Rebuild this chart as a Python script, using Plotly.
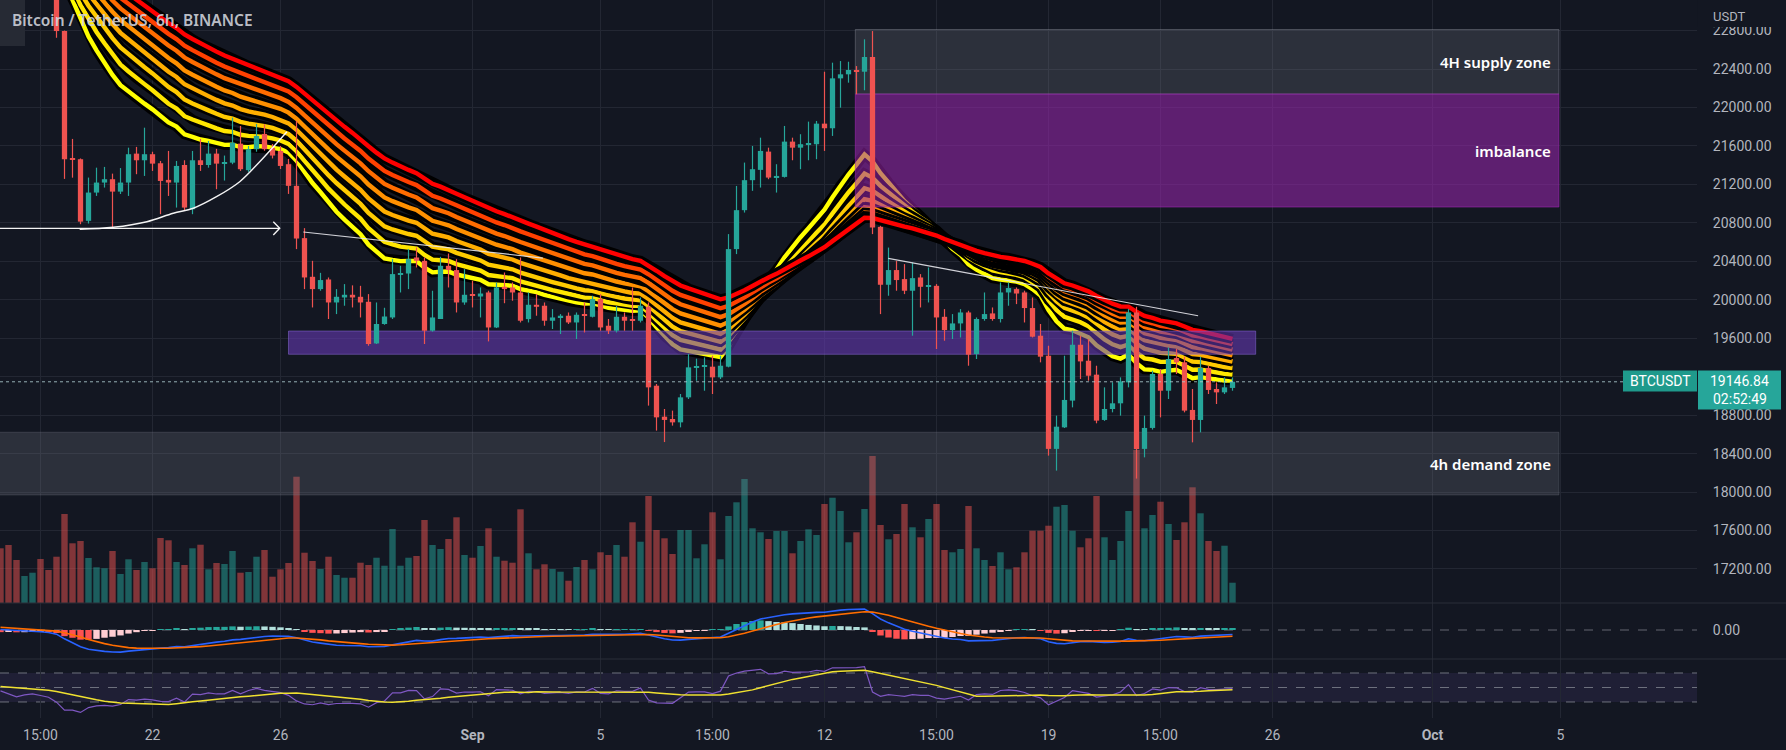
import plotly.graph_objects as go

# ---------------- data: BTCUSDT 6h candles ----------------
opens = [23950, 23800, 23600, 23350, 23450, 23500, 23380, 23250, 22795, 21470,
         21462, 20821, 21115, 21219, 21254, 21125, 21219, 21520, 21451, 21514,
         21420, 21247, 21219, 21402, 20942, 21451, 21402, 21520, 21416, 21426,
         21624, 21348, 21566, 21725, 21580, 21548, 21410, 21185, 20641, 20239,
         20111, 20211, 19972, 20024, 20052, 20031, 19979, 19546, 19748, 19816,
         20267, 20273, 20440, 20405, 19678, 19800, 20353, 20309, 19972, 20052,
         20034, 20076, 19712, 20135, 20128, 20076, 19799, 19948, 19938, 19782,
         19816, 19834, 19764, 19851, 19823, 20007, 19730, 19678, 19823, 19792,
         19782, 19927, 19106, 18784, 18760, 18725, 18985, 19297, 19304, 19304,
         19193, 19304, 20527, 20932, 21244, 21351, 21541, 21271, 21278, 21645,
         21582, 21610, 21618, 21832, 21784, 22303, 22345, 22390, 22372, 22525,
         20758, 20156, 20309, 20215, 20094, 20232, 20135, 20145, 19823, 19685,
         19754, 19868, 19436, 19800, 19858, 19800, 20076, 20111, 20076, 19914,
         19626, 19418, 18449, 18673, 18951, 19532, 19366, 19221, 18750, 18864,
         18923, 19141, 19868, 18449, 18667, 19228, 19054, 19394, 19349, 18854,
         18750, 19290, 19072, 19037, 19083]
highs = [24150, 23900, 23700, 23550, 23600, 23550, 23420, 23300, 22800, 21673,
         21470, 21271, 21374, 21382, 21312, 21370, 21582, 21590, 21790, 21540,
         21444, 21548, 21444, 21451, 21548, 21673, 21652, 21569, 21500, 21894,
         21808, 21600, 21829, 21825, 21620, 21600, 21465, 21860, 20745, 20405,
         20280, 20232, 20111, 20163, 20150, 20145, 20059, 19972, 19917, 20423,
         20353, 20527, 20543, 20440, 20094, 20447, 20481, 20423, 20319, 20197,
         20128, 20094, 20180, 20284, 20180, 20440, 20076, 20059, 19972, 19903,
         19851, 19868, 19868, 19972, 20042, 20059, 19800, 19938, 19868, 20128,
         20024, 19972, 19124, 18864, 18847, 19020, 19436, 19387, 19400, 19418,
         19418, 20683, 21184, 21427, 21600, 21686, 21582, 21410, 21808, 21686,
         21722, 21853, 21860, 22372, 22466, 22483, 22476, 22431, 22709, 22795,
         20769, 20543, 20405, 20371, 20388, 20267, 20336, 20163, 19903, 19851,
         19903, 19886, 19816, 20076, 19920, 20180, 20180, 20128, 20094, 20024,
         19748, 19522, 18795, 19418, 19678, 19626, 19592, 19314, 19089, 19141,
         19193, 19903, 19927, 18795, 19262, 19280, 19504, 19488, 19408, 19072,
         19408, 19314, 19141, 19193, 19193]
lows = [23700, 23500, 23250, 23300, 23400, 23300, 23200, 22725, 21257, 21270,
        20786, 20793, 21080, 21167, 20751, 21100, 21080, 21306, 21288, 21340,
        20890, 21080, 20959, 20925, 20890, 21340, 21374, 21150, 21240, 21410,
        21340, 21330, 21540, 21550, 21470, 21360, 21101, 20527, 20111, 19920,
        20094, 19800, 19851, 19938, 19920, 19816, 19522, 19540, 19740, 19800,
        20076, 20111, 20336, 19540, 19668, 19800, 20128, 19868, 19948, 19920,
        19816, 19567, 19706, 19964, 19990, 19764, 19764, 19834, 19730, 19696,
        19644, 19748, 19592, 19660, 19816, 19678, 19644, 19660, 19678, 19678,
        19764, 18899, 18639, 18520, 18691, 18673, 18968, 19158, 19054, 19020,
        19176, 19297, 20475, 20907, 21133, 21167, 21254, 21115, 21271, 21451,
        21358, 21451, 21462, 21548, 21704, 21998, 22258, 22137, 22179, 20683,
        19851, 20042, 20094, 20059, 19626, 19920, 19972, 19488, 19574, 19592,
        19608, 19314, 19384, 19782, 19782, 19764, 19938, 19955, 19764, 19608,
        19349, 18379, 18223, 18666, 18881, 19176, 19158, 18715, 18740, 18829,
        18795, 19089, 18140, 18361, 18650, 18777, 18968, 19228, 18829, 18517,
        18621, 19020, 18916, 19020, 19054]
closes = [23800, 23600, 23350, 23450, 23500, 23380, 23250, 22795, 21462, 21462,
          20813, 21115, 21219, 21254, 21125, 21219, 21514, 21451, 21514, 21416,
          21236, 21219, 21392, 20959, 21451, 21402, 21520, 21416, 21426, 21634,
          21358, 21566, 21704, 21566, 21500, 21392, 21185, 20637, 20232, 20111,
          20205, 19972, 20031, 20052, 20024, 19972, 19540, 19748, 19826, 20267,
          20273, 20423, 20405, 19678, 19816, 20353, 20309, 19972, 20052, 20042,
          20065, 19712, 20128, 20111, 20076, 19782, 19948, 19927, 19782, 19816,
          19834, 19764, 19844, 19834, 20007, 19712, 19678, 19823, 19782, 19786,
          19938, 19089, 18777, 18750, 18725, 18985, 19297, 19304, 19310, 19193,
          19314, 20527, 20932, 21244, 21358, 21548, 21271, 21288, 21645, 21582,
          21618, 21624, 21832, 21784, 22303, 22345, 22390, 22372, 22525, 20751,
          20156, 20309, 20205, 20094, 20225, 20135, 20145, 19816, 19685, 19754,
          19868, 19429, 19800, 19851, 19800, 20076, 20122, 20065, 19914, 19616,
          19408, 18449, 18680, 18958, 19532, 19359, 19210, 18743, 18864, 18923,
          19151, 19868, 18449, 18667, 19228, 19054, 19384, 19349, 18847, 18750,
          19290, 19062, 19037, 19089, 19146.84]
volumes_k = [38.3, 40.6, 30.1, 18.9, 21.2, 30.8, 23.1, 32.4, 62.3, 41.8,
             43.4, 31.5, 25.0, 24.3, 36.4, 20.3, 30.6, 23.1, 28.7, 24.3,
             45.5, 43.9, 28.7, 26.6, 38.3, 40.8, 23.6, 28.0, 27.3, 36.4,
             21.2, 21.7, 32.4, 37.1, 18.4, 23.6, 28.0, 88.4, 35.2, 29.4,
             23.8, 32.4, 19.6, 17.7, 17.7, 28.2, 26.6, 31.7, 26.1, 51.8,
             26.1, 31.7, 32.9, 58.1, 40.6, 37.8, 44.8, 60.0, 33.6, 31.7,
             39.9, 52.3, 32.4, 29.6, 28.2, 65.6, 34.8, 23.6, 27.1, 23.8,
             21.9, 15.6, 25.2, 30.1, 23.6, 35.5, 33.6, 40.6, 32.4, 56.5,
             42.9, 74.9, 51.1, 45.3, 34.3, 51.1, 51.1, 31.3, 41.1, 63.5,
             30.6, 60.9, 70.5, 86.8, 52.3, 49.5, 44.8, 50.4, 50.4, 34.8,
             43.4, 51.6, 47.6, 69.3, 73.7, 64.4, 42.5, 49.5, 65.8, 102.9,
             54.6, 44.6, 48.3, 69.3, 53.0, 46.0, 58.8, 69.3, 37.1, 35.5,
             37.8, 67.9, 38.3, 30.1, 25.9, 35.5, 23.6, 25.0, 35.5, 50.6,
             50.6, 54.1, 67.4, 68.6, 50.6, 39.0, 45.3, 74.9, 46.0, 30.1,
             43.4, 64.4, 107.1, 52.3, 61.6, 70.9, 55.3, 44.1, 56.5, 81.0,
             62.8, 43.4, 36.4, 40.1, 14.2]

# time axis labels (bar index of each label)
x_tick_bars = [5, 19, 35, 59, 75, 89, 103, 117, 131, 145, 159, 179, 195]
x_tick_labels = ['15:00', '22', '26', '<b>Sep</b>', '5', '15:00', '12', '15:00', '19',
                 '15:00', '26', '<b>Oct</b>', '5']
price_ticks = [17200, 17600, 18000, 18400, 18800, 19200, 19600, 20000, 20400,
               20800, 21200, 21600, 22000, 22400, 22800]
# 19200 sits under the last-price label, so the scale hides its text
hidden_price_labels = [19200]

# zones drawn on the chart: [label, low, high, first bar, last bar]
zone_labels = ['4H supply zone', 'imbalance', '', '4h demand zone']
zone_low = [22140, 20965, 19433, 17970]
zone_high = [22811, 22140, 19675, 18622]
zone_start = [106.85, 106.85, 36.0, -2]
zone_end = [194.8, 194.8, 156.9, 194.8]

# hand-drawn lines (bar, price)
arrow_x = [-1, 34.9]
arrow_y = [20743, 20743]
arrow_head_x = [34.1, 34.9, 34.1]
arrow_head_y = [20812, 20743, 20674]
curve_x = [9.9, 14.1, 18.3, 21.6, 24.1, 27.0, 29.9, 32.4, 35.8]
curve_y = [20733, 20754, 20812, 20900, 20952, 21072, 21228, 21436, 21748]
trend1_x = [37.85, 67.8]
trend1_y = [20705, 20434]
trend2_x = [110.97, 149.7]
trend2_y = [20431, 19834]

# indicator settings (seeds = indicator state just before the first visible bar)
ema_lengths = [20, 25, 30, 35, 40, 45, 50, 55]
ema_seeds = [23700, 23760, 23820, 23880, 23940, 24000, 24060, 24120]
ribbon_colors = ['#ffff00', '#ffe600', '#ffcb00', '#ffae00', '#ff9000', '#ff6c00', '#ff4000', '#ff0000']
macd_seeds = (23700, 23690, 100)
rsi_seeds = (23950, 80.0, 85.0, 52.0)

# ---------------- indicators ----------------
def ema(values, length, seed):
    a = 2.0 / (length + 1)
    out, prev = [], seed
    for v in values:
        prev = prev + a * (v - prev)
        out.append(prev)
    return out

n = len(closes)
bars = list(range(n))

ribbons = [ema(closes, L, s) for L, s in zip(ema_lengths, ema_seeds)]

fast = ema(closes, 12, macd_seeds[0])
slow = ema(closes, 26, macd_seeds[1])
macd = [f - s for f, s in zip(fast, slow)]
signal = ema(macd, 9, macd_seeds[2])
hist = [m - s for m, s in zip(macd, signal)]
hist_colors = []
for i, h in enumerate(hist):
    prev = hist[i - 1] if i > 0 else h
    if h >= 0:
        hist_colors.append('#26a69a' if h > prev else '#b2dfdb')
    else:
        hist_colors.append('#ffcdd2' if h > prev else '#ff5252')

prev_c, g, l, ma_seed = rsi_seeds
rsi = []
for c in closes:
    ch = c - prev_c
    g = (g * 13 + max(ch, 0)) / 14
    l = (l * 13 + max(-ch, 0)) / 14
    rsi.append(100 - 100 / (1 + g / l))
    prev_c = c
rsi_hist = [ma_seed] * 13 + rsi
rsi_ma = [sum(rsi_hist[k:k + 14]) / 14 for k in range(n)]

# ---------------- geometry ----------------
W, H = 1786, 750
PLOT_R = 1697
PLOT_B = 718
MAIN_B = 603
MACD_B = 659
BG = '#131722'
GRID = '#232733'
TXT = '#b2b5be'
UP, DOWN = '#26a69a', '#ef5350'
BAR_PX = 8.0
x_lo = (0 - 0.5) / BAR_PX
x_hi = (PLOT_R - 0.5) / BAR_PX
price_lo, price_hi = 16846, 23118
vol_max = 603 * 0.7
macd_px = 31.0
rsi_lo, rsi_hi = 7.9, 89.3


def pyv(px):
    return (PLOT_B - px) / PLOT_B


def pxv(px):
    return px / PLOT_R


fig = go.Figure()

# EMA ribbon (base price axis)
for vals, col in zip(ribbons, ribbon_colors):
    fig.add_trace(go.Scatter(x=bars, y=vals, mode='lines', line=dict(color='#000000', width=10),
                             xaxis='x', yaxis='y', hoverinfo='skip'))
    fig.add_trace(go.Scatter(x=bars, y=vals, mode='lines', line=dict(color=col, width=4.4),
                             xaxis='x', yaxis='y', hoverinfo='skip'))

# volume
up_flags = [c >= o for o, c in zip(opens, closes)]
vol_colors = ['rgba(38,166,154,0.5)' if u else 'rgba(239,83,80,0.5)' for u in up_flags]
fig.add_trace(go.Bar(x=bars, y=volumes_k, marker=dict(color=vol_colors, line=dict(width=0)),
                     width=0.8, xaxis='x', yaxis='y2', hoverinfo='skip'))

# zones
zone_fill = ['rgba(120,123,134,0.25)', 'rgba(156,39,176,0.55)', 'rgba(103,58,183,0.58)', 'rgba(120,123,134,0.25)']
zone_line = ['rgba(160,163,175,0.35)', 'rgba(156,39,176,0.6)', 'rgba(140,110,220,0.5)', 'rgba(120,123,134,0.3)']
for lo, hi, x0, x1, fc, lc in zip(zone_low, zone_high, zone_start, zone_end, zone_fill, zone_line):
    fig.add_trace(go.Scatter(x=[x0, x1, x1, x0, x0], y=[lo, lo, hi, hi, lo], mode='lines',
                             fill='toself', fillcolor=fc, line=dict(color=lc, width=1),
                             xaxis='x', yaxis='y3', hoverinfo='skip'))

# candles
body_base = [min(o, c) for o, c in zip(opens, closes)]
body_len = [max(abs(c - o), 11) for o, c in zip(opens, closes)]
fig.add_trace(go.Bar(x=bars, y=body_len, base=body_base,
                     marker=dict(color=[UP if u else DOWN for u in up_flags], line=dict(width=0)),
                     width=0.66, xaxis='x', yaxis='y4', hoverinfo='skip'))
for want_up, col in ((True, UP), (False, DOWN)):
    wx, wy = [], []
    for i in bars:
        if up_flags[i] == want_up:
            wx += [i, i, None]
            wy += [lows[i], highs[i], None]
    fig.add_trace(go.Scatter(x=wx, y=wy, mode='lines', line=dict(color=col, width=1.2),
                             xaxis='x', yaxis='y4', hoverinfo='skip'))

# drawings
white = dict(color='rgba(255,255,255,0.95)', width=1.4)
fig.add_trace(go.Scatter(x=arrow_x, y=arrow_y, mode='lines', line=white, xaxis='x', yaxis='y4', hoverinfo='skip'))
fig.add_trace(go.Scatter(x=arrow_head_x, y=arrow_head_y, mode='lines', line=white, xaxis='x', yaxis='y4', hoverinfo='skip'))
fig.add_trace(go.Scatter(x=curve_x, y=curve_y, mode='lines', line=dict(color='rgba(255,255,255,0.95)', width=1.4, shape='spline'),
                         xaxis='x', yaxis='y4', hoverinfo='skip'))
fig.add_trace(go.Scatter(x=trend1_x, y=trend1_y, mode='lines', line=dict(color='rgba(230,230,235,0.9)', width=1.2),
                         xaxis='x', yaxis='y4', hoverinfo='skip'))
fig.add_trace(go.Scatter(x=trend2_x, y=trend2_y, mode='lines', line=dict(color='rgba(230,230,235,0.9)', width=1.2),
                         xaxis='x', yaxis='y4', hoverinfo='skip'))
# last price line
fig.add_trace(go.Scatter(x=[x_lo, x_hi], y=[closes[-1], closes[-1]], mode='lines',
                         line=dict(color='rgba(170,200,205,0.85)', width=1, dash='dot'),
                         xaxis='x', yaxis='y4', hoverinfo='skip'))

# MACD pane
fig.add_trace(go.Bar(x=bars, y=hist, marker=dict(color=hist_colors, line=dict(width=0)), width=0.8,
                     xaxis='x2', yaxis='y5', hoverinfo='skip'))
fig.add_trace(go.Scatter(x=bars, y=macd, mode='lines', line=dict(color='#2962ff', width=1.6),
                         xaxis='x2', yaxis='y5', hoverinfo='skip'))
fig.add_trace(go.Scatter(x=bars, y=signal, mode='lines', line=dict(color='#ff6d00', width=1.6),
                         xaxis='x2', yaxis='y5', hoverinfo='skip'))

# RSI pane
fig.add_trace(go.Scatter(x=bars, y=rsi, mode='lines', line=dict(color='#7e57c2', width=1.2),
                         xaxis='x3', yaxis='y6', hoverinfo='skip'))
fig.add_trace(go.Scatter(x=bars, y=rsi_ma, mode='lines', line=dict(color='#f0e130', width=1.5),
                         xaxis='x3', yaxis='y6', hoverinfo='skip'))

axis_font = dict(family='Roboto, sans-serif', size=14, color=TXT)
common_x = dict(range=[x_lo, x_hi], tickvals=x_tick_bars, ticktext=x_tick_labels, showgrid=True,
                gridcolor=GRID, gridwidth=1, zeroline=False, showline=False, fixedrange=True)
y_right = dict(side='right', ticks='outside', ticklen=12, tickcolor=BG, tickfont=axis_font,
               zeroline=False, showline=False, fixedrange=True)
price_text = ['' if v in hidden_price_labels else f'{v:.2f}' for v in price_ticks]

fig.update_layout(
    width=W, height=H, margin=dict(l=0, r=W - PLOT_R, t=0, b=H - PLOT_B),
    paper_bgcolor=BG, plot_bgcolor=BG, showlegend=False, hovermode=False, barmode='overlay',
    xaxis=dict(domain=[0, 1], anchor='y', showticklabels=False, ticks='', **common_x),
    xaxis2=dict(domain=[0, 1], anchor='y5', matches='x', showticklabels=False, ticks='', **common_x),
    xaxis3=dict(domain=[0, 1], anchor='y6', matches='x', showticklabels=True, tickfont=axis_font,
                ticks='outside', ticklen=4, tickcolor=BG, **common_x),
    yaxis=dict(domain=[pyv(MAIN_B), 1], range=[price_lo, price_hi], tickvals=price_ticks,
               ticktext=price_text, showgrid=True, gridcolor=GRID, **y_right),
    yaxis2=dict(overlaying='y', range=[0, vol_max], visible=False, fixedrange=True),
    yaxis3=dict(overlaying='y', range=[price_lo, price_hi], visible=False, fixedrange=True),
    yaxis4=dict(overlaying='y', range=[price_lo, price_hi], visible=False, fixedrange=True),
    yaxis5=dict(domain=[pyv(MACD_B), pyv(MAIN_B)], range=[-29 * macd_px, 27 * macd_px],
                tickvals=[0], ticktext=['0.00'], showgrid=False, **y_right),
    yaxis6=dict(domain=[0, pyv(MACD_B)], range=[rsi_lo, rsi_hi], side='right', showticklabels=False,
                showgrid=False, zeroline=False, showline=False, ticks='', fixedrange=True),
)

shapes = []
# RSI band and levels
shapes.append(dict(type='rect', xref='x3 domain', yref='y6', x0=0, x1=1, y0=30, y1=70,
                   fillcolor='rgba(126,87,194,0.12)', line=dict(width=0), layer='below'))
for lvl in (30, 50, 70):
    shapes.append(dict(type='line', xref='x3 domain', yref='y6', x0=0, x1=1, y0=lvl, y1=lvl,
                       line=dict(color='rgba(120,123,134,0.9)', width=1, dash='dash'), layer='below'))
# MACD zero line
shapes.append(dict(type='line', xref='x2 domain', yref='y5', x0=0, x1=1, y0=0, y1=0,
                   line=dict(color='rgba(120,123,134,0.8)', width=1, dash='dash'), layer='below'))
# pane separators
for sep in (MAIN_B, MACD_B):
    shapes.append(dict(type='line', xref='paper', yref='paper', x0=0, x1=W / PLOT_R, y0=pyv(sep), y1=pyv(sep),
                       line=dict(color='#2a2e39', width=1), layer='above'))
# top-left legend tab
shapes.append(dict(type='rect', xref='paper', yref='paper', x0=0, x1=pxv(25), y0=pyv(46), y1=pyv(0),
                   fillcolor='#262a34', line=dict(width=0), layer='above'))
# USDT header cover on price scale
shapes.append(dict(type='rect', xref='paper', yref='paper', x0=1.0005, x1=W / PLOT_R, y0=pyv(27), y1=pyv(0),
                   fillcolor=BG, line=dict(width=0), layer='above'))
# last price labels
shapes.append(dict(type='rect', xref='paper', yref='paper', x0=pxv(1623), x1=pxv(1697), y0=pyv(391.5), y1=pyv(370.5),
                   fillcolor='#1f9a8c', line=dict(width=0), layer='above'))
shapes.append(dict(type='rect', xref='paper', yref='paper', x0=pxv(1698), x1=pxv(1781), y0=pyv(409.5), y1=pyv(370.5),
                   fillcolor='#26a69a', line=dict(width=0), layer='above'))
fig.update_layout(shapes=shapes)

ann_font = dict(family='Noto Sans, sans-serif', size=15, color='#ffffff', weight=600)
anns = []
for lab, lo, hi, x1 in zip(zone_labels, zone_low, zone_high, zone_end):
    if lab:
        anns.append(dict(text=lab, x=x1, y=(lo + hi) / 2, xref='x', yref='y4', xanchor='right', yanchor='middle',
                         xshift=-6, showarrow=False, font=ann_font))
anns.append(dict(text='Bitcoin / TetherUS, 6h, BINANCE', x=pxv(10), y=pyv(20), xref='paper', yref='paper',
                 xanchor='left', yanchor='middle', showarrow=False,
                 font=dict(family='Noto Sans, sans-serif', size=15.5, color='rgba(209,212,220,0.9)', weight=600)))
anns.append(dict(text='USDT', x=pxv(1711), y=pyv(17), xref='paper', yref='paper', xanchor='left', yanchor='middle',
                 showarrow=False, font=dict(family='Roboto, sans-serif', size=13, color=TXT)))
lab_font = dict(family='Roboto, sans-serif', size=14, color='#ffffff')
anns.append(dict(text='BTCUSDT', x=pxv(1660), y=pyv(381), xref='paper', yref='paper', xanchor='center',
                 yanchor='middle', showarrow=False, font=lab_font))
anns.append(dict(text=f'{closes[-1]:.2f}', x=pxv(1739.5), y=pyv(381), xref='paper', yref='paper', xanchor='center',
                 yanchor='middle', showarrow=False, font=lab_font))
anns.append(dict(text='02:52:49', x=pxv(1739.5), y=pyv(399), xref='paper', yref='paper', xanchor='center',
                 yanchor='middle', showarrow=False, font=lab_font))
fig.update_layout(annotations=anns)

fig.write_html('out.html')
